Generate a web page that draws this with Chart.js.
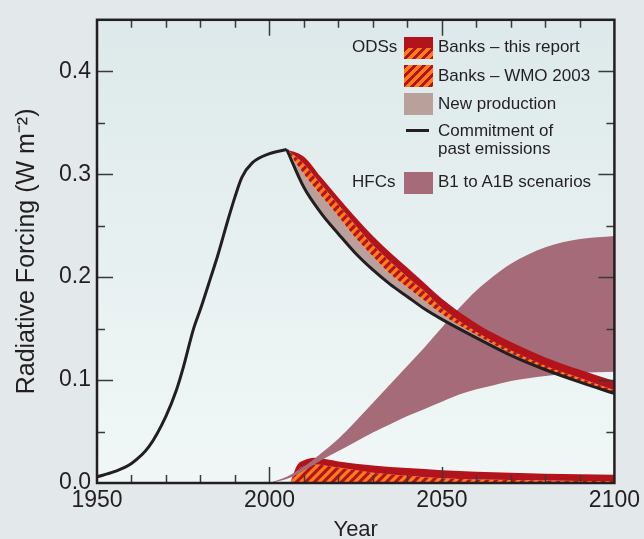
<!DOCTYPE html>
<html lang="en">
<head>
<meta charset="UTF-8">
<title>Radiative Forcing of ODSs and HFCs</title>
<script src="https://cdn.jsdelivr.net/npm/chart.js@4.4.0/dist/chart.umd.min.js"></script>
<style>
    body {
        margin: 0;
        background: #e3e8eb;
        font-family: "Liberation Sans", Arial, sans-serif;
    }
    .wrap {
        position: relative;
        width: 644px;
        height: 539px;
    }
    .lg-text {
        position: absolute;
        white-space: nowrap;
        font-size: 17px;
        line-height: 18px;
        color: #231f20;
    }
    .lg-box {
        position: absolute;
        left: 404px;
        width: 29px;
        height: 22px;
    }
    .hatch {
        background: repeating-linear-gradient(135deg, #b3141b 0px, #b3141b 3px, #ff7d1a 3px, #ff7d1a 6.4px);
    }
</style>
</head>
<body>
<div class="wrap">
    <canvas id="forcingChart" width="644" height="539"></canvas>

    <!-- legend -->
    <div class="lg-text" style="left:352px; top:38px;">ODSs</div>
    <div class="lg-box" style="top:37px; background:linear-gradient(#b3141b 0, #b3141b 50%, transparent 50%);"></div>
    <div class="lg-box hatch" style="top:48px; height:11px;"></div>
    <div class="lg-text" style="left:438px; top:38px;">Banks – this report</div>

    <div class="lg-box hatch" style="top:65px;"></div>
    <div class="lg-text" style="left:438px; top:67px;">Banks – WMO 2003</div>

    <div class="lg-box" style="top:93px; background:#b9a09a;"></div>
    <div class="lg-text" style="left:438px; top:95px;">New production</div>

    <div class="lg-box" style="top:129px; left:406px; width:23px; height:3px; background:#231f20;"></div>
    <div class="lg-text" style="left:438px; top:122px;">Commitment of<br>past emissions</div>

    <div class="lg-text" style="left:352px; top:173px;">HFCs</div>
    <div class="lg-box" style="top:172px; background:#a66b78;"></div>
    <div class="lg-text" style="left:438px; top:173px;">B1 to A1B scenarios</div>
</div>

<script>
    // ODS forcing, commitment of past emissions (rising part up to 2005)
    const riseYears  = [1950, 1955, 1960, 1965, 1970, 1973, 1975, 1978, 1980, 1983, 1985, 1988, 1990, 1992, 1995, 2000, 2005];
    const riseValues = [0.006, 0.011, 0.019, 0.035, 0.065, 0.090, 0.112, 0.150, 0.169, 0.200, 0.221, 0.256, 0.278, 0.297, 0.311, 0.320, 0.324];

    // after 2005: commitment line and the stacked tops above it
    const descYears     = [2005, 2010, 2015, 2020, 2025, 2030, 2035, 2040, 2045, 2050, 2060, 2070, 2080, 2090, 2100];
    const commitDesc    = [0.324, 0.287, 0.262, 0.242, 0.223, 0.207, 0.193, 0.181, 0.169, 0.159, 0.141, 0.124, 0.110, 0.098, 0.087];
    const newProdTop    = [0.324, 0.300, 0.279, 0.259, 0.238, 0.220, 0.203, 0.190, 0.177, 0.164, 0.144, 0.126, 0.111, 0.099, 0.088];
    const wmoBankTop    = [0.324, 0.310, 0.290, 0.270, 0.250, 0.231, 0.215, 0.200, 0.186, 0.170, 0.147, 0.129, 0.114, 0.102, 0.090];
    const reportBankTop = [0.324, 0.317, 0.297, 0.277, 0.258, 0.240, 0.224, 0.209, 0.194, 0.179, 0.155, 0.137, 0.122, 0.110, 0.099];

    // HFC scenarios band (B1 lower, A1B upper)
    const hfcYears = [2000, 2005, 2010, 2015, 2020, 2025, 2030, 2035, 2040, 2045, 2050, 2055, 2060, 2065, 2070, 2080, 2090, 2100];
    const hfcB1    = [0, 0.004, 0.012, 0.022, 0.031, 0.040, 0.049, 0.057, 0.065, 0.072, 0.079, 0.086, 0.091, 0.095, 0.099, 0.104, 0.107, 0.108];
    const hfcA1B   = [0, 0.006, 0.016, 0.029, 0.043, 0.060, 0.078, 0.096, 0.114, 0.132, 0.151, 0.170, 0.187, 0.201, 0.213, 0.229, 0.237, 0.240];

    // HFC banks near zero
    const bankYears   = [2006, 2008, 2010, 2013, 2020, 2030, 2040, 2050, 2060, 2070, 2080, 2090, 2100];
    const bankWmo     = [0, 0.012, 0.016, 0.018, 0.015, 0.010, 0.007, 0.0045, 0.0035, 0.003, 0.0025, 0.002, 0.002];
    const bankReport  = [0, 0.017, 0.022, 0.0245, 0.021, 0.017, 0.0145, 0.0125, 0.011, 0.010, 0.009, 0.0085, 0.008];

    const xTicks = [1950, 2000, 2050, 2100];
    const yTicks = [0, 0.1, 0.2, 0.3, 0.4];

    const RED = '#b3141b';
    const ORANGE = '#ff7d1a';
    const TAN = '#b9a09a';
    const MAUVE = '#a66b78';
    const INK = '#231f20';

    function pts(xs, ys) {
        return xs.map((x, i) => ({ x: x, y: ys[i] }));
    }

    function makeHatch() {
        const s = 9;
        const c = document.createElement('canvas');
        c.width = s; c.height = s;
        const g = c.getContext('2d');
        g.fillStyle = RED;
        g.fillRect(0, 0, s, s);
        g.strokeStyle = ORANGE;
        g.lineWidth = 3.2;
        g.beginPath();
        g.moveTo(-2, s + 2); g.lineTo(s + 2, -2);
        g.moveTo(-2, 2); g.lineTo(2, -2);
        g.moveTo(s - 2, s + 2); g.lineTo(s + 2, s - 2);
        g.stroke();
        return g.createPattern(c, 'repeat');
    }
    const hatch = makeHatch();

    // gradient behind the plot
    const plotBackground = {
        id: 'plotBackground',
        beforeDatasetsDraw(chart) {
            const { ctx, chartArea: a } = chart;
            const g = ctx.createLinearGradient(0, a.top, 0, a.bottom);
            g.addColorStop(0, '#dde9ea');
            g.addColorStop(1, '#f1f7f7');
            ctx.save();
            ctx.fillStyle = g;
            ctx.fillRect(a.left, a.top, a.right - a.left, a.bottom - a.top);
            ctx.restore();
        }
    };

    // inside ticks on all four sides plus the box
    const frameTicks = {
        id: 'frameTicks',
        afterDatasetsDraw(chart) {
            const { ctx, chartArea: a, scales: { x, y } } = chart;
            ctx.save();
            ctx.strokeStyle = '#3a3a3a';
            ctx.lineWidth = 1.5;
            ctx.beginPath();
            for (let yr = 1960; yr < 2100; yr += 10) {
                const px = Math.round(x.getPixelForValue(yr)) + 0.5;
                const len = yr % 50 === 0 ? 16 : 8;
                ctx.moveTo(px, a.bottom); ctx.lineTo(px, a.bottom - len);
                ctx.moveTo(px, a.top); ctx.lineTo(px, a.top + len);
            }
            for (let i = 1; i <= 8; i++) {
                const py = Math.round(y.getPixelForValue(i * 0.05)) + 0.5;
                const len = i % 2 === 0 ? 16 : 8;
                ctx.moveTo(a.left, py); ctx.lineTo(a.left + len, py);
                ctx.moveTo(a.right, py); ctx.lineTo(a.right - len, py);
            }
            ctx.stroke();
            ctx.strokeStyle = INK;
            ctx.lineWidth = 2.5;
            ctx.strokeRect(a.left, a.top, a.right - a.left, a.bottom - a.top);
            ctx.restore();
        }
    };

    const area = (data, fill, color, order) => ({
        data: data,
        fill: fill,
        backgroundColor: color,
        borderColor: 'transparent',
        borderWidth: 0,
        order: order
    });

    new Chart(document.getElementById('forcingChart'), {
        type: 'line',
        data: {
            datasets: [
                // 0: commitment, rising part
                { data: pts(riseYears, riseValues), borderColor: INK, borderWidth: 3, fill: false, order: 0 },
                // 1: commitment, falling part
                { data: pts(descYears, commitDesc), borderColor: INK, borderWidth: 3, fill: false, order: 1 },
                // 2-4: ODS stacked bands
                area(pts(descYears, newProdTop), 1, TAN, 4),
                area(pts(descYears, wmoBankTop), 2, hatch, 3),
                area(pts(descYears, reportBankTop), 3, RED, 2),
                // 5-6: HFC scenarios
                area(pts(hfcYears, hfcB1), false, 'transparent', 7),
                area(pts(hfcYears, hfcA1B), 5, MAUVE, 6),
                // 7-8: banks near zero
                area(pts(bankYears, bankWmo), 'origin', hatch, 9),
                area(pts(bankYears, bankReport), 7, RED, 8)
            ]
        },
        options: {
            responsive: false,
            animation: false,
            layout: { padding: { top: 13, right: 29, left: 0, bottom: 0 } },
            plugins: {
                legend: { display: false },
                tooltip: { enabled: false }
            },
            elements: {
                point: { radius: 0 },
                line: { cubicInterpolationMode: 'monotone' }
            },
            scales: {
                x: {
                    type: 'linear',
                    min: 1950,
                    max: 2100,
                    grid: { display: false, drawTicks: false },
                    border: { display: false },
                    afterBuildTicks: s => { s.ticks = xTicks.map(v => ({ value: v })); },
                    afterFit: s => { s.height = 56; },
                    ticks: {
                        color: INK,
                        font: { family: 'Liberation Sans', size: 23 },
                        padding: 4,
                        maxRotation: 0,
                        autoSkip: false,
                        callback: v => String(v)
                    },
                    title: {
                        display: true,
                        text: 'Year',
                        color: INK,
                        font: { family: 'Liberation Sans', size: 22 },
                        padding: { top: 0, bottom: -4 }
                    }
                },
                y: {
                    min: 0,
                    max: 0.45,
                    grid: { display: false, drawTicks: false },
                    border: { display: false },
                    afterBuildTicks: s => { s.ticks = yTicks.map(v => ({ value: v })); },
                    afterFit: s => { s.width = 97; },
                    ticks: {
                        color: INK,
                        font: { family: 'Liberation Sans', size: 23 },
                        padding: 6,
                        callback: v => Number(v).toFixed(1)
                    },
                    title: {
                        display: true,
                        text: 'Radiative Forcing (W m⁻²)',
                        color: INK,
                        font: { family: 'Liberation Sans', size: 25 },
                        padding: { top: 12, bottom: 0 }
                    }
                }
            }
        },
        plugins: [plotBackground, frameTicks]
    });
</script>
</body>
</html>
